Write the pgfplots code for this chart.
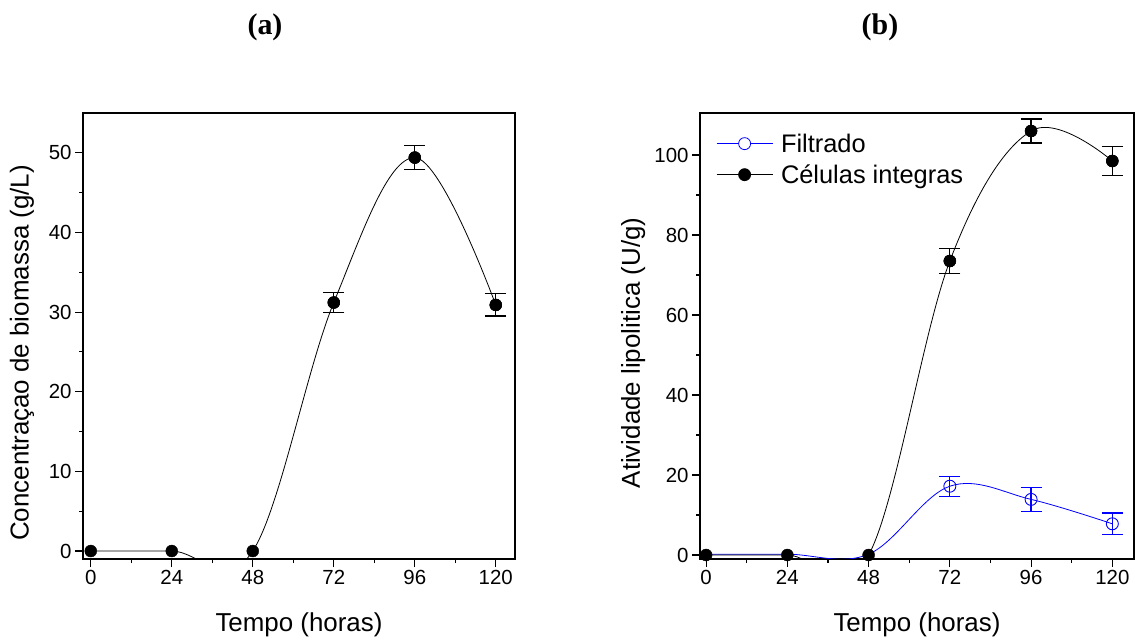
\documentclass[border=0pt]{standalone}
\usepackage{fontspec}
\setmainfont{Liberation Sans}
\newfontfamily\titlefont{Liberation Serif}
\usepackage{pgfplots}
\usepackage{pgfplotstable}
\pgfplotsset{compat=1.18}

\pgfplotstableread{
x y
0 0
24 0
48 0
72 31.2
96 49.4
120 30.9
}\bioall
\pgfplotstableread{
x y e
72 31.2 1.26
96 49.4 1.5
120 30.9 1.4
}\bioerr

\pgfplotstableread{
x y
0 0
24 0
48 0
72 73.5
96 106.0
120 98.5
}\celall
\pgfplotstableread{
x y e
72 73.5 3.2
96 106.0 3.0
120 98.5 3.7
}\celerr

\pgfplotstableread{
x y
0 0.2
24 0.2
48 0.2
72 17.2
96 13.9
120 7.8
}\filall
\pgfplotstableread{
x y e
72 17.2 2.5
96 13.9 3.05
120 7.8 2.7
}\filerr

\pgfplotsset{myaxis/.style={
  scale only axis, height=446bp,
  axis line style={line width=1.3bp},
  tick align=outside, tick pos=left,
  major tick length=8bp, minor tick length=4bp,
  every tick/.style={black, line width=1.1bp},
  xtick={0,24,...,120}, minor x tick num=1,
  ticklabel style={font=\fontsize{20.5}{24}\selectfont},
  label style={font=\fontsize{26}{30}\selectfont},
  /pgf/number format/assume math mode=true,
  xlabel={Tempo (horas)},
  xlabel style={at={(axis description cs:0.5,-0.148)}, anchor=center},
},
errstyle/.style={only marks, error bars/y dir=both, error bars/y explicit,
  error bars/error bar style={line width=1.3bp},
  error bars/error mark options={rotate=90, mark size=10.5bp, line width=1.3bp}},
}

\begin{document}
\begin{tikzpicture}
\path[use as bounding box] (0,0) rectangle (1135bp,641bp);
\node[font=\titlefont\bfseries\fontsize{30}{34}\selectfont] at (265bp,614bp) {(a)};
\node[font=\titlefont\bfseries\fontsize{30}{34}\selectfont] at (880bp,614bp) {(b)};

\begin{axis}[myaxis, at={(83bp,82bp)}, anchor=south west, width=432bp,
  xmin=-2.3, xmax=125.7, ymin=-1, ymax=55,
  ytick={0,10,...,50}, minor y tick num=1,
  ylabel={Concentraçao de biomassa (g/L)},
  ylabel style={at={(axis description cs:-0.141,0.462)}, anchor=center},
]
\addplot[black, line width=0.8bp, smooth, tension=0.6, no marks] table[x=x,y=y] {\bioall};
\addplot[black, only marks, mark=*, mark size=6bp] table[x=x,y=y] {\bioall};
\addplot[black, errstyle, mark=*, mark size=6bp] table[x=x,y=y,y error=e] {\bioerr};
\end{axis}

\begin{axis}[myaxis, at={(700bp,82bp)}, anchor=south west, width=434bp,
  xmin=-1.8, xmax=126.4, ymin=-1, ymax=110.5,
  ytick={0,20,...,100}, minor y tick num=1,
  ylabel={Atividade lipolitica (U/g)},
  ylabel style={at={(axis description cs:-0.154,0.462)}, anchor=center},
  legend style={draw=none, fill=none, at={(axis description cs:0.03,0.963)}, anchor=north west,
    font=\fontsize{25.5}{28}\selectfont, column sep=6bp, row sep=7bp},
  legend cell align=left,
  legend image code/.code={\draw[#1, mark repeat=2, mark phase=2] plot coordinates {(0bp,0bp) (28bp,0bp) (56bp,0bp)};},
]
\addlegendimage{blue, line width=0.8bp, mark=*, mark size=6bp, mark options={fill=white, draw=blue}}
\addlegendentry{Filtrado}
\addlegendimage{black, line width=0.8bp, mark=*, mark size=6bp}
\addlegendentry{Células integras}
\addplot[blue, line width=0.8bp, smooth, tension=0.6, no marks, forget plot] table[x=x,y=y] {\filall};
\addplot[blue, errstyle, mark=o, mark size=6bp, mark options={line width=0.9bp}, forget plot] table[x=x,y=y,y error=e] {\filerr};
\addplot[black, line width=0.8bp, smooth, tension=0.6, no marks, forget plot] table[x=x,y=y] {\celall};
\addplot[black, only marks, mark=*, mark size=6bp, forget plot] table[x=x,y=y] {\celall};
\addplot[black, errstyle, mark=*, mark size=6bp, forget plot] table[x=x,y=y,y error=e] {\celerr};
\end{axis}
\end{tikzpicture}
\end{document}
